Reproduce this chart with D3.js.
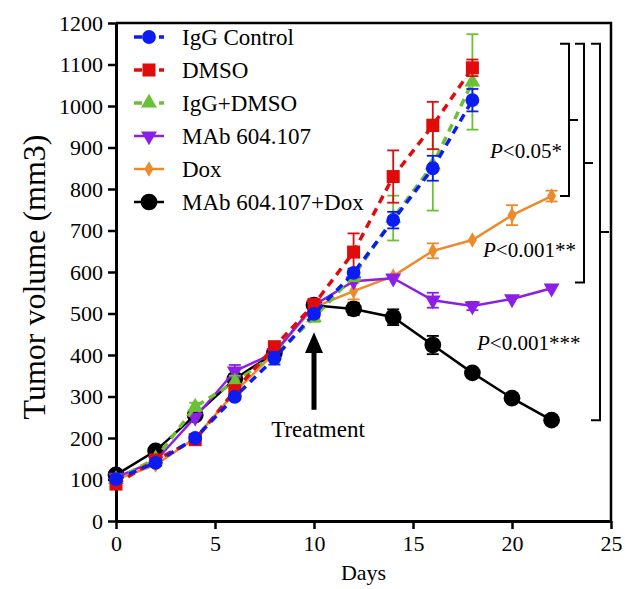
<!DOCTYPE html>
<html>
<head>
<meta charset="utf-8">
<script src="https://cdn.jsdelivr.net/npm/d3@7"></script>
<style>
  html, body { margin: 0; padding: 0; background: #fff; }
  svg { display: block; font-family: "Liberation Serif", "Times New Roman", serif; }
</style>
</head>
<body>
<div id="chart"></div>
<script>
// days measured, tumor volume (mm3) per group
const days = [0, 2, 4, 6, 8, 10, 12, 14, 16, 18, 20, 22];

const iggControl    = [101, 140, 200, 299, 392, 499, 598, 725, 850, 1014];
const iggControlErr = [0, 0, 0, 0, 15, 8, 10, 20, 30, 27];
const dmso          = [89, 147, 196, 314, 420, 522, 648, 830, 953, 1092];
const dmsoErr       = [0, 0, 0, 0, 0, 12, 45, 63, 57, 20];
const iggDmso       = [100, 150, 275, 335, 400, 490, 590, 730, 858, 1058];
const iggDmsoErr    = [0, 0, 10, 15, 0, 10, 12, 54, 110, 115];
const mab           = [105, 145, 250, 361, 405, 520, 578, 585, 532, 518, 535, 561];
const mabErr        = [0, 0, 0, 15, 0, 10, 0, 0, 18, 10, 0, 0];
const dox           = [100, 135, 200, 310, 405, 515, 554, 590, 651, 677, 737, 783];
const doxErr        = [0, 0, 0, 0, 0, 0, 20, 0, 18, 0, 24, 13];
const mabDox        = [111, 169, 255, 342, 405, 520, 511, 491, 424, 357, 296, 243];
const mabDoxErr     = [0, 0, 0, 0, 0, 0, 15, 19, 22, 0, 0, 0];

const seriesNames = ['IgG Control', 'DMSO', 'IgG+DMSO', 'MAb 604.107', 'Dox', 'MAb 604.107+Dox'];
const xTicks = [0, 5, 10, 15, 20, 25];
const yTicks = d3.range(0, 1201, 100);

// significance brackets: top / bottom value, label
const bracketTop = 1150;
const bracketBottoms = [783, 575, 243];
const pLabels = [['P', '<0.05*'], ['P', '<0.001**'], ['P', '<0.001***']];

const width = 625, height = 589;
const serif = '"Liberation Serif", "Times New Roman", serif';
const x = d3.scaleLinear([0, 25], [116, 611]);
const y = d3.scaleLinear([0, 1200], [521, 23]);

const svg = d3.select('#chart').append('svg')
    .attr('width', width)
    .attr('height', height);

const series = [
    { name: seriesNames[0], values: iggControl, err: iggControlErr, color: '#0b1cf2', dashed: true,  symbol: d3.symbolCircle,   size: 150, rot: 0 },
    { name: seriesNames[1], values: dmso,       err: dmsoErr,       color: '#e00c0c', dashed: true,  symbol: d3.symbolSquare,   size: 170, rot: 0 },
    { name: seriesNames[2], values: iggDmso,    err: iggDmsoErr,    color: '#6cc035', dashed: true,  symbol: d3.symbolTriangle, size: 110, rot: 0 },
    { name: seriesNames[3], values: mab,        err: mabErr,        color: '#8c1fe6', dashed: false, symbol: d3.symbolTriangle, size: 110, rot: 180 },
    { name: seriesNames[4], values: dox,        err: doxErr,        color: '#ec8a2c', dashed: false, symbol: d3.symbolDiamond,  size: 70,  rot: 0 },
    { name: seriesNames[5], values: mabDox,     err: mabDoxErr,     color: '#000000', dashed: false, symbol: d3.symbolCircle,   size: 220, rot: 0 }
];

// frame (top + right)
svg.append('path')
    .attr('d', `M${x(0)},${y(1200)}H${x(25)}V${y(0)}`)
    .attr('fill', 'none')
    .attr('stroke', '#000')
    .attr('stroke-width', 2.5);

// axes
const xAxis = svg.append('g')
    .attr('transform', `translate(0,${y(0)})`)
    .call(d3.axisBottom(x).tickValues(xTicks).tickFormat(d3.format('d')).tickSize(8).tickSizeOuter(0).tickPadding(6));
const yAxis = svg.append('g')
    .attr('transform', `translate(${x(0)},0)`)
    .call(d3.axisLeft(y).tickValues(yTicks).tickFormat(d3.format('d')).tickSize(8).tickSizeOuter(0).tickPadding(5));

[xAxis, yAxis].forEach(g => {
    g.attr('font-family', serif).attr('font-size', 22);
    g.select('.domain').attr('stroke-width', 3);
    g.selectAll('.tick line').attr('stroke-width', 2.5);
    g.selectAll('.tick text')
        .style('font-family', serif)
        .style('font-size', '22px')
        .attr('fill', '#000');
});
yAxis.selectAll('.tick text').attr('dy', '0.34em');

svg.append('text')
    .attr('x', (x(0) + x(25)) / 2)
    .attr('y', 580)
    .attr('text-anchor', 'middle')
    .attr('font-size', 22)
    .text('Days');

svg.append('text')
    .attr('transform', 'translate(45,277) rotate(-90)')
    .attr('text-anchor', 'middle')
    .attr('font-size', 32)
    .text('Tumor volume (mm3)');

// series, drawn from last to first so IgG Control is on top
const line = d3.line().x(d => x(d[0])).y(d => y(d[1]));

series.slice().reverse().forEach(s => {
    const pts = s.values.map((v, i) => [days[i], v, s.err[i]]);
    const g = svg.append('g');

    g.append('path')
        .datum(pts)
        .attr('d', line)
        .attr('fill', 'none')
        .attr('stroke', s.color)
        .attr('stroke-width', s.dashed ? 3.5 : 2.5)
        .attr('stroke-dasharray', s.dashed ? '8,6' : null);

    const eb = g.selectAll('.err')
        .data(pts.filter(d => d[2] > 0))
        .join('g')
        .attr('stroke', s.color)
        .attr('stroke-width', 1.8);
    eb.append('line')
        .attr('x1', d => x(d[0])).attr('x2', d => x(d[0]))
        .attr('y1', d => y(d[1] - d[2])).attr('y2', d => y(d[1] + d[2]));
    eb.append('line')
        .attr('x1', d => x(d[0]) - 6).attr('x2', d => x(d[0]) + 6)
        .attr('y1', d => y(d[1] + d[2])).attr('y2', d => y(d[1] + d[2]));
    eb.append('line')
        .attr('x1', d => x(d[0]) - 6).attr('x2', d => x(d[0]) + 6)
        .attr('y1', d => y(d[1] - d[2])).attr('y2', d => y(d[1] - d[2]));

    g.selectAll('.mk')
        .data(pts)
        .join('path')
        .attr('d', d3.symbol().type(s.symbol).size(s.size))
        .attr('transform', d => `translate(${x(d[0])},${y(d[1])}) rotate(${s.rot})`)
        .attr('fill', s.color);
});

// legend
const legend = svg.append('g').attr('transform', 'translate(134,37)');
series.forEach((s, i) => {
    const row = legend.append('g').attr('transform', `translate(0,${i * 33})`);
    row.append('line')
        .attr('x1', 0).attr('x2', 30)
        .attr('stroke', s.color)
        .attr('stroke-width', s.dashed ? 3.5 : 2.5)
        .attr('stroke-dasharray', s.dashed ? '8,17,5' : null);
    row.append('path')
        .attr('d', d3.symbol().type(s.symbol).size(s.size))
        .attr('transform', `translate(15,0) rotate(${s.rot})`)
        .attr('fill', s.color);
    row.append('text')
        .attr('x', 48)
        .attr('y', 8)
        .attr('font-size', 23)
        .text(s.name);
});

// treatment arrow
const ax = x(10);
svg.append('line')
    .attr('x1', ax).attr('x2', ax)
    .attr('y1', y(268)).attr('y2', y(425))
    .attr('stroke', '#000')
    .attr('stroke-width', 5);
svg.append('path')
    .attr('d', `M${ax},${y(455)}L${ax - 9},${y(405)}L${ax + 9},${y(405)}Z`)
    .attr('fill', '#000');
svg.append('text')
    .attr('x', ax + 4)
    .attr('y', 437)
    .attr('text-anchor', 'middle')
    .attr('font-size', 23)
    .text('Treatment');

// brackets
const bracketX = [569, 584, 600];
bracketBottoms.forEach((b, i) => {
    const bx = bracketX[i];
    const top = y(bracketTop), bot = y(b);
    svg.append('path')
        .attr('d', `M${bx - 9},${top}H${bx}V${bot}H${bx - 9}M${bx},${(top + bot) / 2}H${bx + 9}`)
        .attr('fill', 'none')
        .attr('stroke', '#000')
        .attr('stroke-width', 2);
});

const pPos = [[490, 158], [483, 257], [477, 350]];
pLabels.forEach((p, i) => {
    const t = svg.append('text')
        .attr('x', pPos[i][0])
        .attr('y', pPos[i][1])
        .attr('font-size', 21);
    t.append('tspan').attr('font-style', 'italic').text(p[0]);
    t.append('tspan').text(p[1]);
});
</script>
</body>
</html>
